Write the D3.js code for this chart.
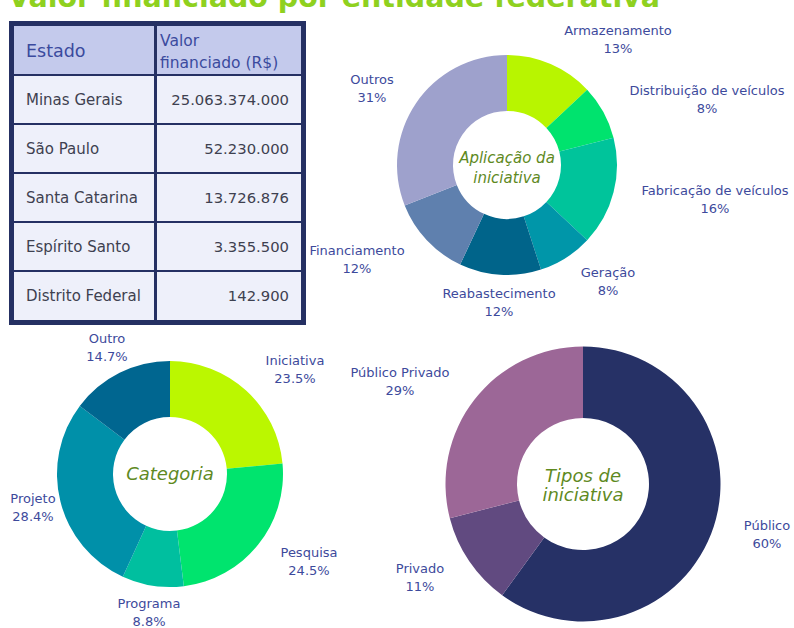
<!DOCTYPE html>
<html lang="pt-BR">
<head>
<meta charset="utf-8">
<script src="https://cdn.jsdelivr.net/npm/d3@7"></script>
<style>
  html, body { margin: 0; padding: 0; background: #ffffff; }
  svg { display: block; font-family: "DejaVu Sans", "Noto Sans", sans-serif; }
</style>
</head>
<body>
<svg id="chart" width="794" height="628"></svg>
<script>
// ---- Dados ----
const titulo = "Valor financiado por entidade federativa";

const tabelaCabecalho = ["Estado", "Valor financiado (R$)"];
const estados = ["Minas Gerais", "São Paulo", "Santa Catarina", "Espírito Santo", "Distrito Federal"];
const valoresFinanciados = [25063374000, 52230000, 13726876, 3355500, 142900];

const aplicacaoTitulo = ["Aplicação da", "iniciativa"];
const aplicacaoNomes = ["Armazenamento", "Distribuição de veículos", "Fabricação de veículos", "Geração", "Reabastecimento", "Financiamento", "Outros"];
const aplicacaoValores = [13, 8, 16, 8, 12, 12, 31];

const categoriaTitulo = ["Categoria"];
const categoriaNomes = ["Iniciativa", "Pesquisa", "Programa", "Projeto", "Outro"];
const categoriaValores = [23.5, 24.5, 8.8, 28.4, 14.7];

const tiposTitulo = ["Tipos de", "iniciativa"];
const tiposNomes = ["Público", "Privado", "Público Privado"];
const tiposValores = [60, 11, 29];

// ---- Estilo ----
const corTexto = "#3d4a9c";
const corCentro = "#5f8a1f";
const azulEscuro = "#253063";

const svg = d3.select("#chart");

// Título no topo da página (só a parte inferior aparece)
svg.append("text")
  .attr("x", 8).attr("y", 7)
  .attr("font-size", 28.5).attr("font-weight", "bold")
  .attr("fill", "#8fd11f")
  .text(titulo);

// ---- Tabela ----
const fmtBR = d3.formatLocale({ decimal: ",", thousands: ".", grouping: [3], currency: ["R$", ""] }).format(",d");
const tab = { x: 9, y: 21, w: 297, h: 304, borda: 5, colSplit: 155 };
const linhas = estados.length + 1;
const yRow = d3.scaleBand().domain(d3.range(linhas))
  .range([tab.y + tab.borda, tab.y + tab.h - tab.borda]);

const gTab = svg.append("g");
gTab.append("rect").attr("x", tab.x).attr("y", tab.y).attr("width", tab.w).attr("height", tab.h).attr("fill", azulEscuro);

const colunas = [
  { x0: tab.x + tab.borda, x1: tab.colSplit - 1 },
  { x0: tab.colSplit + 2, x1: tab.x + tab.w - tab.borda }
];
d3.range(linhas).forEach(i => {
  colunas.forEach(c => {
    const top = yRow(i) + (i === 0 ? 0 : 1);
    const bot = yRow(i) + yRow.bandwidth() - (i === linhas - 1 ? 0 : 1);
    gTab.append("rect")
      .attr("x", c.x0).attr("y", top)
      .attr("width", c.x1 - c.x0).attr("height", bot - top)
      .attr("fill", i === 0 ? "#c4caec" : "#eef0fa");
  });
});

// Cabeçalho
const hMid = yRow(0) + yRow.bandwidth() / 2;
gTab.append("text").attr("x", 26).attr("y", hMid + 6)
  .attr("font-size", 17.5).attr("fill", "#3b4a9e").text(tabelaCabecalho[0]);
gTab.append("text").attr("x", 160).attr("y", hMid - 5)
  .attr("font-size", 15.5).attr("fill", "#3b4a9e")
  .selectAll("tspan").data(["Valor", "financiado (R$)"]).join("tspan")
  .attr("x", 160).attr("dy", (d, i) => i === 0 ? 0 : 22).text(d => d);

// Linhas
estados.forEach((e, i) => {
  const m = yRow(i + 1) + yRow.bandwidth() / 2;
  gTab.append("text").attr("x", 26).attr("y", m + 5.5)
    .attr("font-size", 15).attr("fill", "#3e4150").text(e);
  gTab.append("text").attr("x", 289).attr("y", m + 5.5)
    .attr("text-anchor", "end")
    .attr("font-size", 14.8).attr("fill", "#3e4150").text(fmtBR(valoresFinanciados[i]));
});

// ---- Rosquinhas ----
function rosquinha(cfg) {
  const g = svg.append("g").attr("transform", `translate(${cfg.cx},${cfg.cy})`);
  const pie = d3.pie().sort(null).value(d => d.v);
  const arc = d3.arc().innerRadius(cfg.r0).outerRadius(cfg.r1);
  const dados = cfg.nomes.map((n, i) => ({ n, v: cfg.valores[i], cor: cfg.cores[i], off: cfg.rotulos[i] }));
  const arcs = pie(dados);

  g.selectAll("path.fatia").data(arcs).join("path")
    .attr("class", "fatia")
    .attr("d", arc)
    .attr("fill", d => d.data.cor);

  const fmt = cfg.fmt;
  const lab = g.selectAll("text.rotulo").data(arcs).join("text")
    .attr("class", "rotulo")
    .attr("text-anchor", "middle")
    .attr("font-size", cfg.fonte)
    .attr("fill", corTexto);
  lab.append("tspan").attr("x", d => d.data.off[0]).attr("y", d => d.data.off[1]).text(d => d.data.n);
  lab.append("tspan").attr("x", d => d.data.off[0]).attr("y", d => d.data.off[1] + 18).text(d => fmt(d.data.v) + "%");

  const t = g.append("text")
    .attr("text-anchor", "middle")
    .attr("font-size", cfg.fonteCentro)
    .attr("font-style", "italic")
    .attr("fill", corCentro);
  cfg.titulo.forEach((s, i) => {
    t.append("tspan").attr("x", 0).attr("y", cfg.tituloY[i]).text(s);
  });
}

rosquinha({
  cx: 507, cy: 165, r0: 54, r1: 110,
  nomes: aplicacaoNomes, valores: aplicacaoValores,
  cores: ["#b8f500", "#00e36e", "#00c49b", "#0096a9", "#00648a", "#5f80ae", "#9ea1cc"],
  rotulos: [[111, -130], [200, -70], [208, 30], [101, 112], [-8, 133], [-150, 90], [-135, -81]],
  fmt: d3.format("d"), fonte: 13,
  titulo: aplicacaoTitulo, tituloY: [-2, 18], fonteCentro: 15
});

rosquinha({
  cx: 170, cy: 474, r0: 57, r1: 113,
  nomes: categoriaNomes, valores: categoriaValores,
  cores: ["#bbf700", "#00e46e", "#00bf9f", "#0090a9", "#006690"],
  rotulos: [[125, -109], [139, 83], [-21, 134], [-137, 29], [-63, -131]],
  fmt: d3.format(".1f"), fonte: 13,
  titulo: categoriaTitulo, tituloY: [6], fonteCentro: 18
});

rosquinha({
  cx: 583, cy: 484, r0: 66, r1: 137.5,
  nomes: tiposNomes, valores: tiposValores,
  cores: ["#263166", "#614a80", "#9c6797"],
  rotulos: [[184, 46], [-163, 89], [-183, -107]],
  fmt: d3.format("d"), fonte: 13,
  titulo: tiposTitulo, tituloY: [-2, 17], fonteCentro: 18
});
</script>
</body>
</html>
